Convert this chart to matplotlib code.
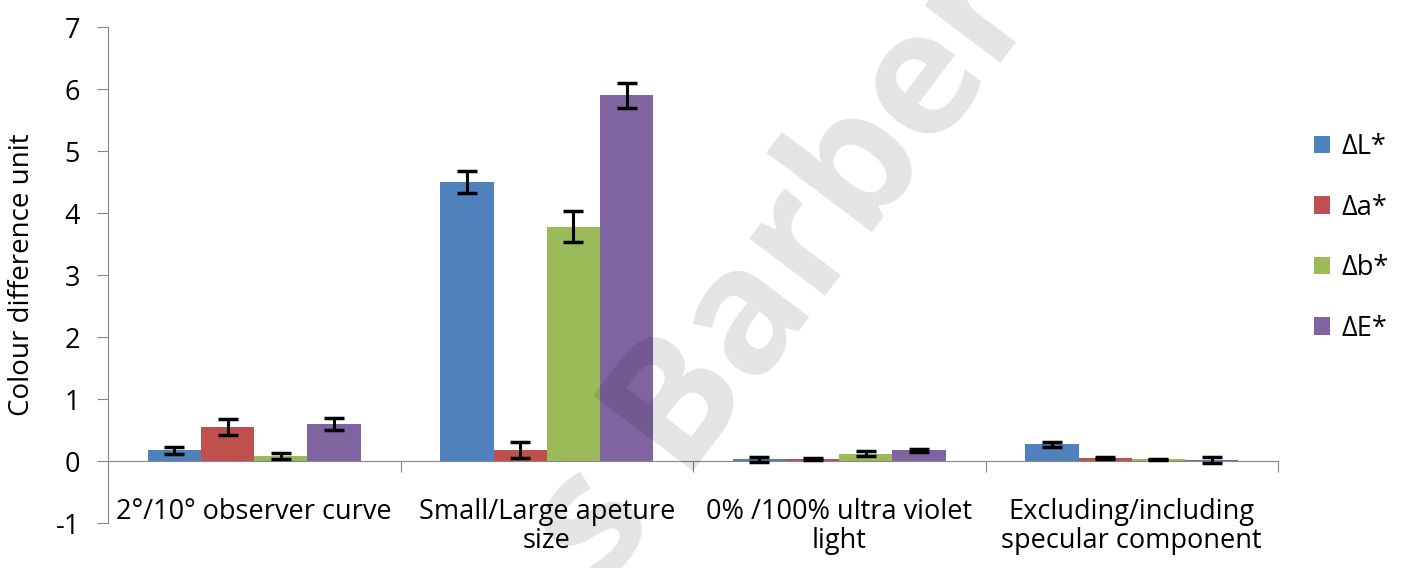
import numpy as np
import matplotlib.pyplot as plt

plt.rcParams['font.family'] = ['Open Sans', 'DejaVu Sans']
plt.rcParams['axes.unicode_minus'] = False

# data
categories = ['2°/10° observer curve', 'Small/Large apeture\nsize',
              '0% /100% ultra violet\nlight', 'Excluding/including\nspecular component']
series = ['ΔL*', 'Δa*', 'Δb*', 'ΔE*']
dL = [0.17, 4.50, 0.03, 0.27]
da = [0.55, 0.18, 0.03, 0.05]
db = [0.08, 3.78, 0.12, 0.03]
dE = [0.60, 5.90, 0.17, 0.01]
dL_err = [0.05, 0.18, 0.04, 0.04]
da_err = [0.13, 0.13, 0.02, 0.01]
db_err = [0.05, 0.25, 0.04, 0.01]
dE_err = [0.10, 0.20, 0.03, 0.05]

colors = ['#4F81BD', '#C0504D', '#9BBB59', '#8064A2']
values = [dL, da, db, dE]
errors = [dL_err, da_err, db_err, dE_err]

fig = plt.figure(figsize=(14.03, 5.68), dpi=100)
ax = fig.add_axes([108 / 1403, 45 / 568, (1278 - 108) / 1403, (523 - 27) / 568])

x = np.arange(len(categories))
w = 1 / 5.5
for i, (name, vals, errs, c) in enumerate(zip(series, values, errors, colors)):
    ax.bar(x + (i - 1.5) * w, vals, w, color=c, label=name, zorder=2)
    ax.errorbar(x + (i - 1.5) * w, vals, yerr=errs, fmt='none', ecolor='black',
                elinewidth=2.2, capsize=7, capthick=2.5, zorder=3)

ax.set_xlim(-0.5, 3.5)
ax.set_ylim(-1, 7)
ax.set_yticks(range(-1, 8))
ax.tick_params(axis='y', length=8, color='#868686', labelsize=19.5, pad=12)
ax.spines['top'].set_visible(False)
ax.spines['right'].set_visible(False)
ax.spines['left'].set_color('#868686')
ax.spines['bottom'].set_color('#868686')
ax.spines['bottom'].set_position(('data', 0))
ax.set_xticks(np.arange(-0.5, 4, 1))
ax.set_xticklabels([])
ax.tick_params(axis='x', length=8, color='#868686', direction='out')

for i, lab in enumerate(categories):
    ax.text(i, -0.6, lab, ha='center', va='top', fontsize=19.5, linespacing=1.05)

ax.set_ylabel('Colour difference unit', fontsize=20, labelpad=14)

ax.legend(loc='center left', bbox_to_anchor=(1.01, 0.575), frameon=False, fontsize=19.5,
          handlelength=0.6, handleheight=0.6, labelspacing=1.2, handletextpad=0.4)

# watermark (pixel coords from bottom-left)
fig.text(605, -20, 's Barber', transform=None, fontsize=125, fontweight='bold',
         color='black', alpha=0.11, rotation=53, rotation_mode='anchor',
         ha='left', va='baseline')

fig.savefig('out.png', dpi=100)
